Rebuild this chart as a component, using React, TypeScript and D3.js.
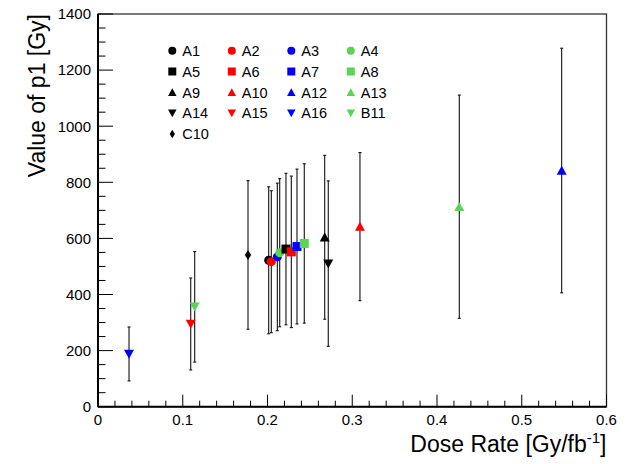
import React from "react";
import * as d3 from "d3";

const names = ["A1","A2","A3","A4","A5","A6","A7","A8","A9","A10","A12","A13","A14","A15","A16","B11","C10"];
const doseRate = [0.2014,0.2045,0.2116,0.2144,0.2218,0.2281,0.2348,0.2434,0.2675,0.3091,0.5471,0.4263,0.2717,0.1094,0.0366,0.1141,0.177];
const p1Value = [522,517,534,549,562,552,571,582,604,642,842,713,510,295,188,356,541];
const p1Error = [262,253,263,264,270,270,276,284,292,264,436,398,295,164,96,197,265];
const shapes = ["circle","circle","circle","circle","square","square","square","square","up","up","up","up","down","down","down","down","diamond"];
const colors = ["#000000","#ff0000","#0000ff","#59d454","#000000","#ff0000","#0000ff","#59d454","#000000","#ff0000","#0000ff","#59d454","#000000","#ff0000","#0000ff","#59d454","#000000"];

const xTicks = [0,0.1,0.2,0.3,0.4,0.5,0.6];
const yTicks = [0,200,400,600,800,1000,1200,1400];

const W = 634, H = 464;
const L = 98, R = 606.5, T = 14, B = 406.7;

function markerPath(shape: string, cx: number, cy: number, s: number): string {
  const r = s / 2;
  switch (shape) {
    case "circle":
      return `M${cx - r},${cy}a${r},${r} 0 1,0 ${2 * r},0a${r},${r} 0 1,0 ${-2 * r},0Z`;
    case "square":
      return `M${cx - r},${cy - r}h${2 * r}v${2 * r}h${-2 * r}Z`;
    case "up":
      return `M${cx - r},${cy + r * 0.85}L${cx + r},${cy + r * 0.85}L${cx},${cy - r * 0.95}Z`;
    case "down":
      return `M${cx - r},${cy - r * 0.85}L${cx + r},${cy - r * 0.85}L${cx},${cy + r * 0.95}Z`;
    case "diamond":
      return `M${cx},${cy - r}L${cx + r * 0.62},${cy}L${cx},${cy + r}L${cx - r * 0.62},${cy}Z`;
  }
  return "";
}

export default function App() {
  const x = d3.scaleLinear().domain([0, 0.6]).range([L, R]);
  const y = d3.scaleLinear().domain([0, 1400]).range([B, T]);
  const xMinor = d3.range(0, 0.6001, 0.02);
  const yMinor = d3.range(0, 1400.1, 50);
  const font = "'Liberation Sans', Arial, Helvetica, sans-serif";

  const plotSize = (s: string) => (s === "diamond" ? 10 : s === "circle" ? 9 : s === "square" ? 9 : 10);
  const legSize = (s: string) => (s === "diamond" ? 8.5 : s === "circle" ? 8 : s === "square" ? 8 : 8.5);

  return (
    <svg width={W} height={H} style={{ position: "absolute", left: 0, top: 0, background: "#fff" }} fontFamily={font}>
      <rect x={0} y={0} width={W} height={H} fill="#fff" />
      {/* frame */}
      <rect x={L} y={T} width={R - L} height={B - T} fill="none" stroke="#333" strokeWidth={1.3} />
      {/* axes */}
      <line x1={L} y1={T} x2={L} y2={B} stroke="#000" strokeWidth={2} />
      <line x1={L} y1={B} x2={R} y2={B} stroke="#000" strokeWidth={2} />
      {xMinor.map((v, i) => {
        const major = i % 5 === 0;
        return <line key={"xt" + i} x1={x(v)} x2={x(v)} y1={B} y2={B - (major ? 12 : 6)} stroke="#000" strokeWidth={1} />;
      })}
      {yMinor.map((v, i) => {
        const major = i % 4 === 0;
        return <line key={"yt" + i} x1={L} x2={L + (major ? 15 : 7.5)} y1={y(v)} y2={y(v)} stroke="#000" strokeWidth={1} />;
      })}
      {xTicks.map((v) => (
        <text key={"xl" + v} x={x(v)} y={B + 18.5} fontSize={15} textAnchor="middle" fill="#000">{v === 0 ? "0" : d3.format(".1f")(v)}</text>
      ))}
      {yTicks.map((v) => (
        <text key={"yl" + v} x={L - 7} y={y(v) + 5.3} fontSize={15} textAnchor="end" fill="#000">{v}</text>
      ))}
      <text x={R} y={452} fontSize={23} textAnchor="end" fill="#000">
        Dose Rate [Gy/fb<tspan dy={-9} fontSize={15}>-1</tspan><tspan dy={9}>]</tspan>
      </text>
      <text transform={`translate(45,${T}) rotate(-90)`} fontSize={23} textAnchor="end" fill="#000">Value of p1 [Gy]</text>

      {/* error bars */}
      {names.map((n, i) => {
        const cx = x(doseRate[i]);
        const y1 = y(p1Value[i] + p1Error[i]);
        const y2 = y(p1Value[i] - p1Error[i]);
        return (
          <g key={"e" + n} stroke="#111" strokeWidth={1.1}>
            <line x1={cx} x2={cx} y1={y1} y2={y2} />
            <line x1={cx - 1.5} x2={cx + 1.5} y1={y1} y2={y1} />
            <line x1={cx - 1.5} x2={cx + 1.5} y1={y2} y2={y2} />
          </g>
        );
      })}
      {/* markers */}
      {names.map((n, i) => (
        <path key={"m" + n} d={markerPath(shapes[i], x(doseRate[i]), y(p1Value[i]), plotSize(shapes[i]))} fill={colors[i]} />
      ))}

      {/* legend */}
      {names.map((n, i) => {
        const col = i < 16 ? i % 4 : 0;
        const row = Math.floor(i / 4);
        const mx = 172.3 + col * 59.5;
        const my = 50.7 + row * 20.8;
        return (
          <g key={"l" + n}>
            <path d={markerPath(shapes[i], mx, my, legSize(shapes[i]))} fill={colors[i]} />
            <text x={mx + 10} y={my + 5.2} fontSize={14.5} fill="#000">{n}</text>
          </g>
        );
      })}
    </svg>
  );
}
